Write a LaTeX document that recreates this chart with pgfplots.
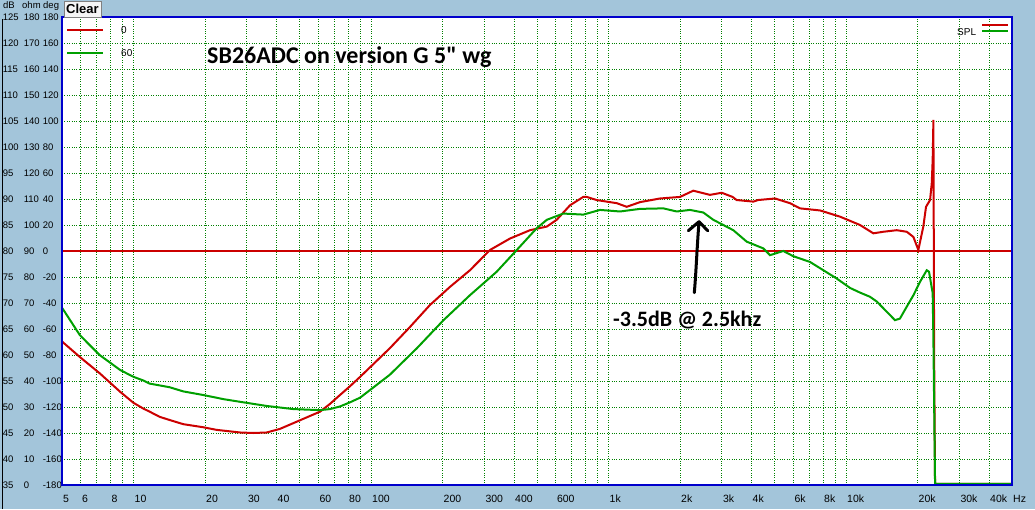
\documentclass[border=0pt]{standalone}
\usepackage{fontspec}
\setmainfont{Liberation Sans}
\newfontfamily\carlito{Carlito}
\usepackage{pgfplots}
\usepackage{pgfplotstable}
\pgfplotsset{compat=1.18}
\definecolor{bgblue}{HTML}{A3C5DA}
\definecolor{frameblue}{HTML}{0000CC}
\definecolor{gridgreen}{HTML}{008000}
\definecolor{cred}{HTML}{CC0000}
\definecolor{cgreen}{HTML}{00A000}
\newcommand{\tl}[3]{\makebox[21pt][l]{#1}\makebox[19pt][l]{#2}\makebox[19pt][l]{#3}}

\pgfplotstableread{
f db
5 62.6
5.95 59.6
7.2 56.5
8.8 52.9
10 50.8
11.0 49.7
11.7 49.1
12.9 48.1
14.2 47.5
16.2 46.7
19.7 46.1
22.4 45.6
28.1 45.1
31.9 45.0
36.4 45.1
41.4 45.8
47.1 46.9
53.6 48.0
61 49.1
67.2 50.6
74 52.3
81.6 54.0
90 55.8
120 61.3
146 65.4
177 69.6
215 73.1
261 76.3
317 80.2
385 82.4
467 84.0
550 84.7
605 86
689 88.8
783 90.4
810 90.4
892 89.8
982 89.5
1083 89.2
1193 88.5
1357 89.4
1648 90.1
2000 90.4
2275 91.6
2675 90.8
2999 91.2
3330 90.4
3466 89.8
4073 89.5
4260 89.8
5025 90.1
5807 89.2
6400 88.2
7780 87.8
9440 86.6
11455 85
13035 83.4
14355 83.7
16345 84
18025 83.7
19225 82.7
20165 80.2
21160 84.7
21725 88.5
22590 89.8
22960 93
23170 97.5
23335 105.2
23500 60
23710 35.2
50000 35.2
}\redtab

\pgfplotstableread{
f db
5 69.1
5.95 63.8
7.2 60
8.8 57.1
10 55.8
11.0 55.1
11.7 54.5
14.2 53.8
16.2 53.0
19.7 52.3
24.0 51.5
28.1 51
36.4 50.2
47.1 49.6
61 49.4
67.2 49.6
74 50.1
81.6 50.9
90 51.8
120 56.2
156 61.3
202 66.7
261 71.5
338 76
411 80.2
499 84.4
550 86
645 87.2
783 87.0
921 87.9
1118 87.6
1357 88.1
1702 88.2
1937 87.6
2203 87.9
2508 87.4
2762 86
3354 84
3818 81.8
4486 80.5
4786 79.2
5445 80
6000 79
7050 77.9
8030 76.3
9140 74.7
10400 72.9
11455 72
12615 71.2
13460 70.3
14355 69
15310 67.7
16075 66.7
16865 67
18025 69.3
19225 71.5
20510 74.1
21875 76.3
22365 76
23170 71.9
23335 62.9
23710 35.2
50000 35.2
}\greentab

\begin{document}
\begin{tikzpicture}[x=1pt,y=1pt]
\fill[bgblue] (0,0) rectangle (1035,509);
\draw[black, line width=1pt] (2.5,0) -- (2.5,490);
\begin{axis}[
  at={(62pt,24pt)}, anchor=south west,
  scale only axis, width=950pt, height=468pt,
  xmode=log, log basis x=10,
  xmin=5, xmax=50000, ymin=35, ymax=125,
  axis background/.style={fill=white},
  axis line style={draw=none},
  xtick={5,6,7,8,9,10,20,30,40,50,60,70,80,90,100,200,300,400,500,600,700,800,900,1000,2000,3000,4000,5000,6000,7000,8000,9000,10000,20000,30000,40000},
  xticklabels={5,6,,8,,10,20,30,40,,60,,80,,100,200,300,400,,600,,,,1k,2k,3k,4k,,6k,,8k,,10k,20k,30k,40k},
  ytick={35,40,...,125},
  yticklabels={\tl{35}{0}{-180},\tl{40}{10}{-160},\tl{45}{20}{-140},\tl{50}{30}{-120},\tl{55}{40}{-100},\tl{60}{50}{-80},\tl{65}{60}{-60},\tl{70}{70}{-40},\tl{75}{80}{-20},\tl{80}{90}{0},\tl{85}{100}{20},\tl{90}{110}{40},\tl{95}{120}{60},\tl{100}{130}{80},\tl{105}{140}{100},\tl{110}{150}{120},\tl{115}{160}{140},\tl{120}{170}{160},\tl{125}{180}{180}},
  grid=major,
  major grid style={gridgreen, dotted, line width=0.9pt},
  major tick length=0pt, minor tick length=0pt,
  xticklabel style={font=\fontsize{10.5}{12}\selectfont, anchor=base west, inner sep=0pt, yshift=-17pt, xshift=1pt},
  yticklabel style={font=\fontsize{9.5}{10}\selectfont, anchor=east, inner sep=0pt},
  clip=true,
]
\addplot[cred, line width=1.3pt, forget plot] coordinates {(5,80) (50000,80)};
\addplot[cred, line width=2pt] table[x=f, y=db] {\redtab};
\addplot[cgreen, line width=2pt] table[x=f, y=db] {\greentab};
\end{axis}
\draw[frameblue, line width=2pt] (62,24) rectangle (1012,492);
% header and button
\node[anchor=west, inner sep=0pt, font=\fontsize{9.5}{10}\selectfont] at (3,503) {\makebox[19pt][l]{dB}\makebox[21pt][l]{ohm}deg};
\draw[fill=gray!8, draw=gray] (64,492) rectangle (101,508);
\node[inner sep=0pt, font=\bfseries\fontsize{13}{15}\selectfont] at (82.5,500) {Clear};
% legends
\draw[cred, line width=2pt] (67,479) -- (103,479);
\node[anchor=west, inner sep=0pt, font=\fontsize{10}{12}\selectfont] at (121,479) {0};
\draw[cgreen, line width=2pt] (67,456) -- (103,456);
\node[anchor=west, inner sep=0pt, font=\fontsize{10}{12}\selectfont] at (121,456) {60};
\node[anchor=west, inner sep=0pt, font=\fontsize{10}{12}\selectfont] at (957,477) {SPL};
\draw[cred, line width=2pt] (982,484) -- (1008,484);
\draw[cgreen, line width=2pt] (982,478) -- (1008,478);
\node[anchor=base west, inner sep=0pt, font=\fontsize{10.5}{12}\selectfont] at (1013,7) {Hz};
% title and annotation
\node[anchor=base west, inner sep=0pt, font=\carlito\bfseries\fontsize{24}{28}\selectfont] at (207,445) {SB26ADC on version G 5" wg};
\node[anchor=base west, inner sep=0pt, font=\carlito\bfseries\fontsize{22}{26}\selectfont] at (613,183) {-3.5dB @ 2.5khz};
\draw[line width=3pt, line cap=round, line join=round] (694.3,216.3) .. controls (696,235) and (697,262) .. (699,287.3);
\draw[line width=3pt, line cap=round, line join=round] (688.3,278.3) -- (699,287.3) -- (707.7,278.3);
\end{tikzpicture}
\end{document}
